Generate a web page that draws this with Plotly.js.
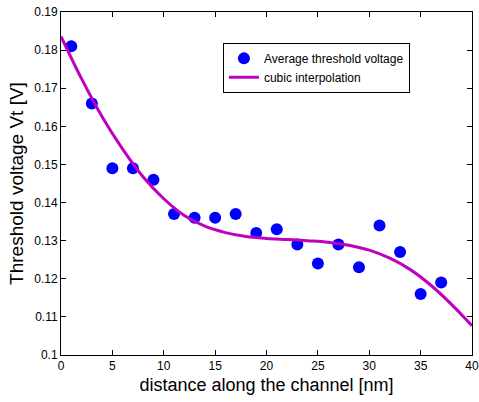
<!DOCTYPE html>
<html>
<head>
<meta charset="utf-8">
<script src="https://cdn.plot.ly/plotly-3.0.1.min.js"></script>
<style>html,body{margin:0;padding:0;background:#fff;}#chart{width:479px;height:402px;}</style>
</head>
<body>
<div id="chart"></div>
<script>
// Measured points
const distance = [1, 3, 5, 7, 9, 11, 13, 15, 17, 19, 21, 23, 25, 27, 29, 31, 33, 35, 37];
const avgVt = [0.181, 0.166, 0.149, 0.149, 0.146, 0.137, 0.136, 0.136, 0.137, 0.132, 0.133, 0.129, 0.124, 0.129, 0.123, 0.134, 0.127, 0.116, 0.119];
// Interpolation curve
const curveX = [0, 2, 4, 6, 8, 10, 12, 14, 16, 18, 20, 22, 24, 26, 28, 30, 32, 34, 36, 38, 40];
const curveY = [0.1836, 0.1725, 0.1625, 0.1540, 0.1467, 0.1410, 0.1366, 0.1338, 0.1321, 0.1311, 0.1306, 0.1303, 0.1300, 0.1296, 0.1288, 0.1275, 0.1254, 0.1224, 0.1183, 0.1133, 0.1077];
const xTicks = [0, 5, 10, 15, 20, 25, 30, 35, 40];
const yTicks = [0.1, 0.11, 0.12, 0.13, 0.14, 0.15, 0.16, 0.17, 0.18, 0.19];

const FONT = 'Liberation Sans, Arial, Helvetica, sans-serif';
const traces = [
  {x: distance, y: avgVt, type: 'scatter', mode: 'markers', name: 'Average threshold voltage',
   marker: {color: '#0000ff', size: 12}},
  {x: curveX, y: curveY, type: 'scatter', mode: 'lines', name: 'cubic interpolation',
   line: {color: '#bf00bf', width: 3, shape: 'spline', smoothing: 1}}
];
const axisCommon = {
  showline: true, linecolor: '#000', linewidth: 1, mirror: 'ticks',
  ticks: 'inside', ticklen: 5, tickcolor: '#000', showgrid: false, zeroline: false,
  tickfont: {family: FONT, size: 12, color: '#000'}
};
const layout = {
  width: 479, height: 402,
  margin: {l: 61, r: 7, t: 12, b: 47},
  paper_bgcolor: '#fff', plot_bgcolor: '#fff',
  showlegend: true,
  legend: {x: 0.394, y: 0.91, xanchor: 'left', yanchor: 'top',
    bgcolor: '#fff', bordercolor: '#000', borderwidth: 1,
    font: {family: FONT, size: 12, color: '#000'},
    tracegroupgap: 0},
  xaxis: Object.assign({}, axisCommon, {range: [0, 40], tickvals: xTicks, ticktext: xTicks.map(String),
    title: {text: 'distance along the channel [nm]', standoff: 5,
      font: {family: FONT, size: 18, color: '#000'}}}),
  yaxis: Object.assign({}, axisCommon, {range: [0.1, 0.19], tickvals: yTicks, ticktext: yTicks.map(v => String(+v.toFixed(2))),
    title: {text: 'Threshold voltage Vt [V]', standoff: 5,
      font: {family: FONT, size: 19, color: '#000'}}})
};
Plotly.newPlot('chart', traces, layout, {staticPlot: true, displayModeBar: false});
</script>
</body>
</html>
